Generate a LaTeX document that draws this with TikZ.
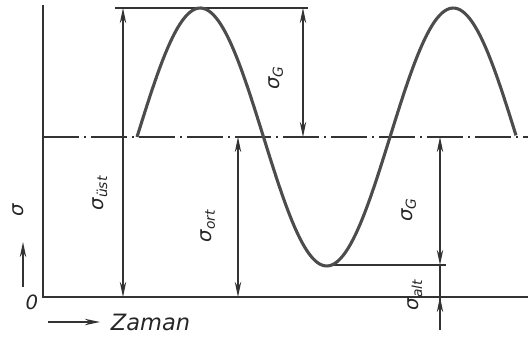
\documentclass[tikz,border=0pt]{standalone}
\usepackage{fontspec}
\setmainfont{DejaVu Sans}
\usetikzlibrary{arrows.meta,positioning}

\begin{document}
\begin{tikzpicture}[
  x=0.025cm, y=-0.025cm,
  font=\fontsize{14}{16}\selectfont\itshape,
  >={Stealth[length=3.8mm,width=1.6mm]},
  ink/.style={draw=black!80},
  axis/.style={ink, line width=1.4pt},
  guide/.style={ink, line width=1.1pt},
  dashdot/.style={ink, line width=1.1pt, dash pattern=on 0.9cm off 0.12cm on 0.06cm off 0.12cm},
  dim/.style={ink, <->, line width=0.8pt},
  lbl/.style={rotate=90, inner sep=1pt, text=black!85},
  wave/.style={draw=black!70, line width=2.2pt}
]
  \useasboundingbox (0,0) rectangle (528,338);

  % axes
  \coordinate (ytop) at (43,5);
  \coordinate (o) at (43,297);
  \coordinate (xend) at (528,297);
  \draw[axis] (ytop) -- (o) -- (xend);

  % mean, upper and lower lines
  \coordinate (mleft) at (43,137);
  \coordinate (mright) at (528,137);
  \draw[dashdot] (mleft) -- (mright);
  \coordinate (tleft) at (115,8);
  \coordinate (tright) at (308,8);
  \draw[guide] (tleft) -- (tright);
  \coordinate (bleft) at (333,265);
  \coordinate (bright) at (446,265);
  \draw[guide] (bleft) -- (bright);

  % stress curve
  \draw[wave] plot[domain=137:516, samples=150] (\x, {137-129*sin((\x-137)*1.42292)});

  % dimension lines
  \coordinate (ust1) at (123,8);
  \coordinate (ust2) at (123,297);
  \draw[dim] (ust1) -- (ust2);
  \coordinate (ga1) at (303,8);
  \coordinate (ga2) at (303,137);
  \draw[dim] (ga1) -- (ga2);
  \coordinate (ort1) at (238,137);
  \coordinate (ort2) at (238,297);
  \draw[dim] (ort1) -- (ort2);
  \coordinate (gb1) at (440,137);
  \coordinate (gb2) at (440,265);
  \draw[dim] (gb1) -- (gb2);
  \coordinate (alt1) at (440,330);
  \coordinate (alt2) at (440,297);
  \draw[ink, line width=0.8pt] (gb2) -- (alt1);
  \draw[ink, ->, line width=0.8pt] (alt1) -- (alt2);

  \node[lbl] (sust) at (100,193) {σ\textsubscript{üst}};
  \node[lbl] (sga) at (276,78) {σ\textsubscript{G}};
  \node[lbl] (sort) at (208,226) {σ\textsubscript{ort}};
  \node[lbl] (sgb) at (409,210) {σ\textsubscript{G}};
  \node[lbl] (salt) at (415,295) {σ\textsubscript{alt}};

  % axis labels
  \node[lbl] (sig) at (18,210) {σ};
  \coordinate (sa1) at (23,287);
  \coordinate (sa2) at (23,242);
  \draw[ink, ->, line width=1.1pt] (sa1) -- (sa2);
  \node[text=black!85] (zero) at (32,302) {0};
  \coordinate (za1) at (48,322);
  \coordinate (za2) at (100,322);
  \draw[ink, ->, line width=0.9pt] (za1) -- (za2);
  \node[text=black!85, font=\fontsize{16}{18}\selectfont\itshape, right=1.5mm of za2] (zaman) {Zaman};
\end{tikzpicture}
\end{document}
